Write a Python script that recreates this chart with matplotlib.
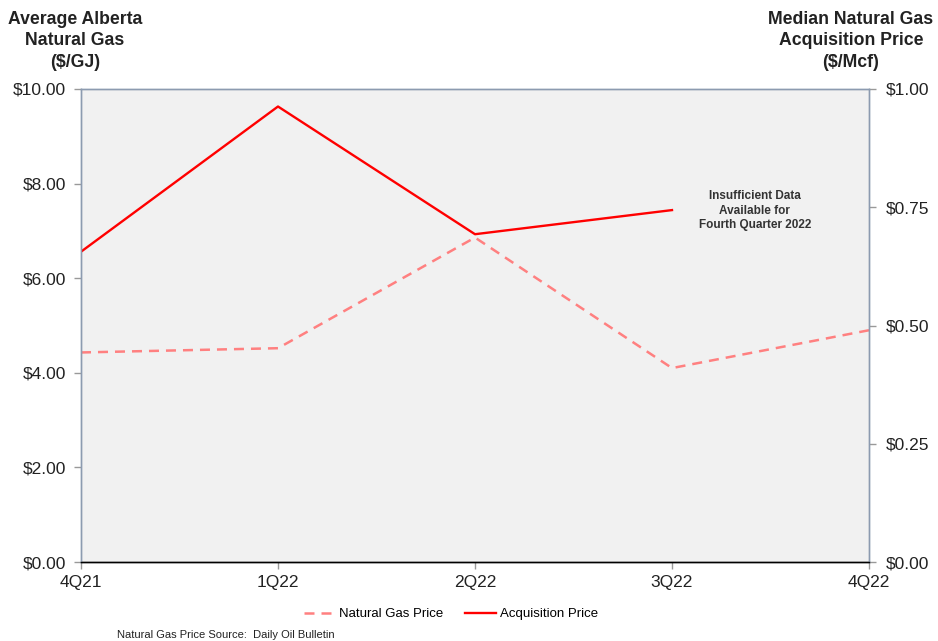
import numpy as np
import matplotlib
matplotlib.use("Agg")
from matplotlib import pyplot as plt
from matplotlib.ticker import FuncFormatter

plt.rcParams['font.family'] = ['Liberation Sans', 'DejaVu Sans']

quarters = ['4Q21', '1Q22', '2Q22', '3Q22', '4Q22']
gas_price = [4.43, 4.52, 6.86, 4.10, 4.90]          # $/GJ, left axis
acq_price = [0.656, 0.963, 0.693, 0.744, np.nan]     # $/Mcf, right axis (no 4Q22 data)

left_ticks = [0, 2, 4, 6, 8, 10]
right_ticks = [0, 0.25, 0.5, 0.75, 1.0]

GAS_COLOR = '#ff8080'
ACQ_COLOR = '#ff0000'
SPINE_COLOR = '#8c9bb0'

fig = plt.figure(figsize=(9.38, 6.41), dpi=100)
ax = fig.add_axes([81 / 938, 1 - 562 / 641, 788 / 938, 473 / 641])
ax2 = ax.twinx()

x = np.arange(len(quarters))
gas_line, = ax.plot(x, gas_price, color=GAS_COLOR, lw=1.8,
                    linestyle=(0, (4, 2.8)), label='Natural Gas Price')
acq_line, = ax2.plot(x, acq_price, color=ACQ_COLOR, lw=1.7,
                     label='Acquisition Price')

ax.set_facecolor('#f1f1f1')
ax.set_xlim(0, len(quarters) - 1)
ax.set_ylim(0, 10)
ax2.set_ylim(0, 1.0)
ax.set_xticks(x)
ax.set_xticklabels(quarters)
ax.set_yticks(left_ticks)
ax2.set_yticks(right_ticks)
ax.yaxis.set_major_formatter(FuncFormatter(lambda v, p: f'${v:.2f}'))
ax2.yaxis.set_major_formatter(FuncFormatter(lambda v, p: f'${v:.2f}'))

for a in (ax, ax2):
    a.tick_params(axis='both', direction='out', length=5, width=1,
                  color='#999999', labelsize=12.5, labelcolor='#222222')
    for side in ('top', 'left', 'right'):
        a.spines[side].set_color(SPINE_COLOR)
        a.spines[side].set_linewidth(1)
    a.spines['bottom'].set_color('black')
    a.spines['bottom'].set_linewidth(1)
ax.tick_params(axis='y', pad=6)
ax.tick_params(axis='x', pad=4)
ax2.tick_params(axis='y', pad=7)

# note for the missing quarter
ax.text(3.42, 7.43, 'Insufficient Data\nAvailable for\nFourth Quarter 2022',
        ha='center', va='center', fontsize=8.5, fontweight='bold',
        color='#333333', linespacing=1.25)

fig.text(75 / 938, 1 - 11 / 641, 'Average Alberta\nNatural Gas\n($/GJ)',
         ha='center', va='top', fontsize=12.7, fontweight='bold',
         color='#222222', linespacing=1.33)
fig.text(851 / 938, 1 - 11 / 641, 'Median Natural Gas\nAcquisition Price\n($/Mcf)',
         ha='center', va='top', fontsize=12.7, fontweight='bold',
         color='#222222', linespacing=1.33)

fig.legend(handles=[gas_line, acq_line], loc='center',
           bbox_to_anchor=(451 / 938, 1 - 614 / 641), ncol=2, frameon=False,
           fontsize=9.5, handlelength=2.3, handletextpad=0.3, columnspacing=1.7)

fig.text(117 / 938, 1 - 635 / 641, 'Natural Gas Price Source:  Daily Oil Bulletin',
         ha='left', va='center', fontsize=8, color='#222222')

fig.savefig('out.png', dpi=100)
